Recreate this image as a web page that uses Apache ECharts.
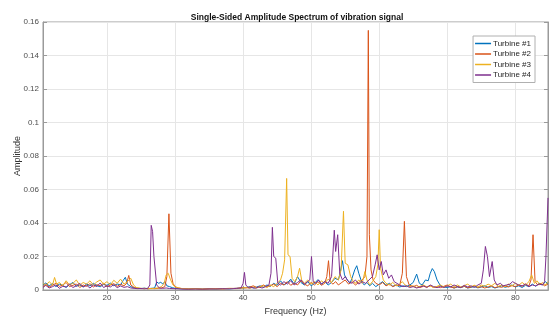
<!DOCTYPE html>
<html>
<head>
<meta charset="utf-8">
<script src="https://cdn.jsdelivr.net/npm/echarts@6/dist/echarts.min.js"></script>
<style>
  html, body { margin: 0; padding: 0; background: #fff; }
  #chart { width: 549px; height: 321px; }
</style>
</head>
<body>
<div id="chart"></div>
<script>
// tick values
const xTicks = [20, 30, 40, 50, 60, 70, 80];
const seriesNames = ["Turbine #1", "Turbine #2", "Turbine #3", "Turbine #4"];
const colors = ["#0072BD", "#D95319", "#EDB120", "#7E2F8E"];

// Turbine #1
const t1Freq = [10.6, 11.0, 11.5, 12.0, 12.5, 13.0, 13.5, 14.0, 14.5, 15.0, 15.5, 16.0, 16.5, 17.0, 17.5, 18.0, 18.5, 19.0, 19.5, 20.0, 20.5, 21.0, 21.5, 22.0, 22.4, 22.7, 23.0, 23.5, 24.0, 24.5, 25.0, 25.5, 26.0, 26.5, 27.0, 27.3, 27.6, 27.9, 28.2, 28.5, 28.8, 29.2, 29.6, 30.0, 31, 32, 33, 34, 35, 36, 37, 38, 39, 40, 40.5, 41, 41.5, 42, 42.5, 43, 43.5, 44.0, 44.5, 45.0, 45.5, 46.0, 46.5, 47.0, 47.5, 48.0, 48.5, 49.0, 49.5, 50.0, 50.5, 51.0, 51.5, 52.0, 52.5, 53.0, 53.5, 54.0, 54.3, 54.6, 54.9, 55.3, 55.7, 56.0, 56.4, 56.7, 57.0, 57.4, 57.8, 58.2, 58.6, 59.0, 59.5, 60.0, 60.5, 61.0, 61.5, 62.0, 62.5, 63.0, 63.5, 64.0, 64.5, 65.0, 65.5, 65.9, 66.3, 66.8, 67.2, 67.5, 67.8, 68.1, 68.5, 69.0, 69.5, 70, 70.5, 71, 71.5, 72, 72.5, 73, 73.5, 74, 74.5, 75, 75.5, 76, 76.5, 77, 77.5, 78, 78.5, 79, 79.5, 80, 80.5, 81, 81.5, 82, 82.5, 83, 83.5, 84, 84.4, 84.8];
const t1Amp = [0.0030, 0.0042, 0.0025, 0.0038, 0.0020, 0.0035, 0.0028, 0.0015, 0.0032, 0.0045, 0.0022, 0.0030, 0.0018, 0.0036, 0.0024, 0.0040, 0.0026, 0.0019, 0.0033, 0.0028, 0.0041, 0.0025, 0.0036, 0.0030, 0.0058, 0.0076, 0.0035, 0.0020, 0.0012, 0.0010, 0.0009, 0.0011, 0.0008, 0.0010, 0.0012, 0.0048, 0.0040, 0.0046, 0.0036, 0.0050, 0.0025, 0.0020, 0.0014, 0.0010, 0.0007, 0.0006, 0.0008, 0.0005, 0.0007, 0.0006, 0.0008, 0.0007, 0.0010, 0.0012, 0.0015, 0.0020, 0.0012, 0.0018, 0.0025, 0.0016, 0.0030, 0.0022, 0.0040, 0.0028, 0.0055, 0.0030, 0.0042, 0.0065, 0.0035, 0.0080, 0.0045, 0.0030, 0.0050, 0.0025, 0.0040, 0.0062, 0.0035, 0.0050, 0.0030, 0.0045, 0.0070, 0.0060, 0.0110, 0.0175, 0.0090, 0.0060, 0.0040, 0.0070, 0.0120, 0.0145, 0.0100, 0.0050, 0.0030, 0.0045, 0.0025, 0.0040, 0.0020, 0.0035, 0.0050, 0.0028, 0.0040, 0.0022, 0.0030, 0.0018, 0.0025, 0.0020, 0.0030, 0.0045, 0.0095, 0.0040, 0.0030, 0.0060, 0.0055, 0.0100, 0.0128, 0.0110, 0.0060, 0.0025, 0.0018, 0.0015, 0.0020, 0.0012, 0.0018, 0.0014, 0.0022, 0.0012, 0.0016, 0.0020, 0.0013, 0.0018, 0.0025, 0.0015, 0.0020, 0.0012, 0.0018, 0.0025, 0.0016, 0.0022, 0.0030, 0.0018, 0.0025, 0.0015, 0.0028, 0.0020, 0.0035, 0.0022, 0.0040, 0.0030, 0.0050, 0.0038];

// Turbine #2
const t2Freq = [10.6, 11.0, 11.5, 12.0, 12.5, 13.0, 13.5, 14.0, 14.5, 15.0, 15.5, 16.0, 16.5, 17.0, 17.5, 18.0, 18.5, 19.0, 19.5, 20.0, 20.5, 21.0, 21.5, 22.0, 22.5, 22.9, 23.2, 23.5, 24.0, 24.5, 25, 25.5, 26, 26.5, 27, 27.5, 28, 28.5, 28.8, 29.1, 29.4, 29.7, 30.0, 30.5, 31, 32, 33, 34, 35, 36, 37, 38, 39, 40, 40.5, 41, 41.5, 42, 42.5, 43, 43.5, 44, 44.5, 45, 45.5, 46, 46.5, 47, 47.5, 48, 48.5, 49, 49.5, 50, 50.5, 51, 51.5, 52.0, 52.3, 52.55, 52.8, 53.2, 53.6, 54.0, 54.5, 55.0, 55.5, 56.0, 56.5, 57.0, 57.5, 57.9, 58.2, 58.4, 58.55, 58.8, 59.1, 59.5, 60.0, 60.5, 61.0, 61.5, 62.0, 62.5, 63.0, 63.4, 63.7, 64.0, 64.4, 65, 65.5, 66, 66.5, 67, 67.5, 68, 68.5, 69, 69.5, 70, 70.5, 71, 71.5, 72, 72.5, 73, 73.5, 74, 74.5, 75, 75.5, 76, 76.5, 77, 77.5, 78, 78.5, 79, 79.5, 80, 80.5, 81, 81.5, 82, 82.3, 82.6, 82.9, 83.3, 83.8, 84.3, 84.8];
const t2Amp = [0.0020, 0.0035, 0.0018, 0.0028, 0.0040, 0.0022, 0.0030, 0.0045, 0.0020, 0.0028, 0.0036, 0.0015, 0.0030, 0.0022, 0.0038, 0.0018, 0.0032, 0.0025, 0.0040, 0.0020, 0.0030, 0.0038, 0.0022, 0.0034, 0.0025, 0.0040, 0.0087, 0.0030, 0.0015, 0.0010, 0.0008, 0.0010, 0.0007, 0.0009, 0.0008, 0.0010, 0.0012, 0.0020, 0.0080, 0.0455, 0.0100, 0.0040, 0.0020, 0.0012, 0.0008, 0.0006, 0.0007, 0.0005, 0.0006, 0.0008, 0.0006, 0.0009, 0.0010, 0.0014, 0.0012, 0.0018, 0.0025, 0.0015, 0.0020, 0.0030, 0.0018, 0.0025, 0.0035, 0.0020, 0.0040, 0.0030, 0.0050, 0.0028, 0.0042, 0.0030, 0.0055, 0.0035, 0.0025, 0.0045, 0.0030, 0.0050, 0.0028, 0.0040, 0.0080, 0.0175, 0.0050, 0.0035, 0.0050, 0.0030, 0.0045, 0.0060, 0.0035, 0.0050, 0.0030, 0.0045, 0.0060, 0.0080, 0.0200, 0.1550, 0.0330, 0.0120, 0.0060, 0.0040, 0.0030, 0.0045, 0.0025, 0.0035, 0.0020, 0.0030, 0.0025, 0.0100, 0.0410, 0.0080, 0.0030, 0.0020, 0.0028, 0.0015, 0.0022, 0.0018, 0.0025, 0.0015, 0.0020, 0.0014, 0.0022, 0.0030, 0.0018, 0.0012, 0.0020, 0.0015, 0.0022, 0.0013, 0.0018, 0.0025, 0.0015, 0.0020, 0.0012, 0.0018, 0.0025, 0.0014, 0.0020, 0.0016, 0.0024, 0.0018, 0.0026, 0.0020, 0.0030, 0.0022, 0.0035, 0.0025, 0.0060, 0.0330, 0.0050, 0.0030, 0.0040, 0.0025, 0.0035];

// Turbine #3
const t3Freq = [10.6, 11.0, 11.5, 12.0, 12.3, 12.6, 13.0, 13.5, 14.0, 14.5, 15.0, 15.5, 16.0, 16.5, 17.0, 17.5, 18.0, 18.5, 19.0, 19.5, 20.0, 20.5, 21.0, 21.5, 22.0, 22.5, 23.0, 23.5, 23.9, 24.3, 25, 25.5, 26, 26.5, 27, 27.5, 28, 28.4, 28.7, 29.0, 29.3, 29.7, 30.2, 31, 32, 33, 34, 35, 36, 37, 38, 39, 40, 40.5, 41, 41.5, 42, 42.5, 43, 43.5, 44, 44.5, 45.0, 45.5, 45.8, 46.1, 46.4, 46.6, 46.9, 47.2, 47.6, 48.0, 48.3, 48.6, 49.0, 49.5, 50.0, 50.5, 51.0, 51.5, 52.0, 52.5, 53.0, 53.5, 54.0, 54.4, 54.75, 55.0, 55.4, 55.8, 56.2, 56.6, 57.0, 57.5, 57.9, 58.2, 58.6, 59.0, 59.5, 59.8, 60.0, 60.2, 60.6, 61.0, 61.5, 62.0, 62.5, 63.0, 63.4, 63.8, 64.3, 65, 65.5, 66, 66.5, 67, 67.5, 68, 68.5, 69, 69.5, 70, 70.5, 71, 71.5, 72, 72.5, 73, 73.5, 74, 74.5, 75, 75.5, 76, 76.5, 77, 77.5, 78, 78.5, 79, 79.5, 80, 80.5, 81, 81.5, 82, 82.4, 82.8, 83.2, 83.6, 84, 84.4, 84.8];
const t3Amp = [0.0040, 0.0025, 0.0050, 0.0030, 0.0075, 0.0035, 0.0045, 0.0025, 0.0055, 0.0030, 0.0040, 0.0060, 0.0028, 0.0045, 0.0035, 0.0055, 0.0030, 0.0048, 0.0060, 0.0035, 0.0050, 0.0030, 0.0058, 0.0040, 0.0065, 0.0035, 0.0050, 0.0070, 0.0030, 0.0015, 0.0010, 0.0008, 0.0010, 0.0008, 0.0010, 0.0012, 0.0020, 0.0040, 0.0090, 0.0100, 0.0065, 0.0030, 0.0015, 0.0009, 0.0007, 0.0008, 0.0006, 0.0009, 0.0007, 0.0008, 0.0010, 0.0008, 0.0012, 0.0015, 0.0010, 0.0018, 0.0012, 0.0020, 0.0025, 0.0015, 0.0030, 0.0020, 0.0040, 0.0060, 0.0100, 0.0180, 0.0666, 0.0210, 0.0200, 0.0070, 0.0050, 0.0080, 0.0130, 0.0060, 0.0040, 0.0060, 0.0035, 0.0050, 0.0030, 0.0055, 0.0040, 0.0065, 0.0045, 0.0080, 0.0060, 0.0120, 0.0470, 0.0160, 0.0150, 0.0080, 0.0050, 0.0040, 0.0060, 0.0040, 0.0110, 0.0060, 0.0030, 0.0050, 0.0080, 0.0150, 0.0360, 0.0130, 0.0060, 0.0040, 0.0030, 0.0045, 0.0025, 0.0035, 0.0050, 0.0030, 0.0020, 0.0025, 0.0015, 0.0022, 0.0030, 0.0018, 0.0025, 0.0015, 0.0022, 0.0030, 0.0018, 0.0025, 0.0035, 0.0020, 0.0030, 0.0018, 0.0026, 0.0035, 0.0020, 0.0028, 0.0018, 0.0030, 0.0022, 0.0035, 0.0025, 0.0040, 0.0022, 0.0030, 0.0020, 0.0035, 0.0025, 0.0040, 0.0028, 0.0045, 0.0030, 0.0050, 0.0090, 0.0040, 0.0055, 0.0030, 0.0045, 0.0030, 0.0050];

// Turbine #4
const t4Freq = [10.6, 11.0, 11.5, 12.0, 12.5, 13.0, 13.5, 14.0, 14.5, 15.0, 15.5, 16.0, 16.5, 17.0, 17.5, 18.0, 18.5, 19.0, 19.5, 20.0, 20.5, 21.0, 21.5, 22.0, 22.5, 23.0, 23.5, 24.0, 24.5, 25, 25.5, 26.0, 26.3, 26.5, 26.7, 26.9, 27.1, 27.3, 27.7, 28.2, 28.7, 29.2, 30, 31, 32, 33, 34, 35, 36, 37, 38, 39, 39.7, 40.0, 40.2, 40.4, 40.8, 41.3, 41.8, 42.3, 42.8, 43.3, 43.8, 44.1, 44.3, 44.5, 44.8, 45.1, 45.5, 46.0, 46.5, 47.0, 47.5, 48.0, 48.5, 49.0, 49.5, 49.8, 50.05, 50.3, 50.7, 51.1, 51.5, 52.0, 52.5, 53.0, 53.4, 53.6, 53.9, 54.2, 54.6, 55.0, 55.5, 56.0, 56.5, 57.0, 57.5, 58.0, 58.5, 59.0, 59.4, 59.7, 60.0, 60.3, 60.6, 61.0, 61.4, 61.8, 62.2, 62.6, 63.0, 63.5, 64, 64.5, 65, 65.5, 66, 66.5, 67, 67.5, 68, 68.5, 69, 69.5, 70, 70.5, 71, 71.5, 72, 72.5, 73, 73.5, 74, 74.5, 75.0, 75.3, 75.6, 75.9, 76.2, 76.6, 76.9, 77.3, 77.8, 78.2, 78.7, 79.2, 79.6, 80.0, 80.5, 81.0, 81.5, 82.0, 82.5, 83.0, 83.5, 84.0, 84.3, 84.5, 84.8];
const t4Amp = [0.0015, 0.0028, 0.0012, 0.0020, 0.0030, 0.0010, 0.0022, 0.0018, 0.0035, 0.0015, 0.0025, 0.0040, 0.0018, 0.0028, 0.0012, 0.0030, 0.0020, 0.0042, 0.0015, 0.0025, 0.0018, 0.0032, 0.0014, 0.0024, 0.0016, 0.0020, 0.0012, 0.0010, 0.0008, 0.0009, 0.0007, 0.0010, 0.0030, 0.0386, 0.0350, 0.0200, 0.0190, 0.0030, 0.0012, 0.0010, 0.0012, 0.0009, 0.0008, 0.0006, 0.0005, 0.0006, 0.0005, 0.0007, 0.0006, 0.0008, 0.0007, 0.0009, 0.0012, 0.0040, 0.0105, 0.0030, 0.0012, 0.0015, 0.0010, 0.0018, 0.0012, 0.0020, 0.0030, 0.0100, 0.0374, 0.0200, 0.0190, 0.0040, 0.0030, 0.0050, 0.0035, 0.0055, 0.0030, 0.0045, 0.0060, 0.0035, 0.0050, 0.0060, 0.0200, 0.0050, 0.0040, 0.0060, 0.0035, 0.0050, 0.0040, 0.0080, 0.0357, 0.0230, 0.0330, 0.0100, 0.0060, 0.0080, 0.0050, 0.0040, 0.0060, 0.0035, 0.0050, 0.0040, 0.0060, 0.0080, 0.0150, 0.0210, 0.0120, 0.0170, 0.0090, 0.0120, 0.0070, 0.0090, 0.0050, 0.0040, 0.0030, 0.0020, 0.0025, 0.0015, 0.0020, 0.0012, 0.0018, 0.0025, 0.0015, 0.0030, 0.0020, 0.0014, 0.0022, 0.0015, 0.0025, 0.0018, 0.0030, 0.0020, 0.0015, 0.0028, 0.0018, 0.0025, 0.0015, 0.0030, 0.0040, 0.0120, 0.0260, 0.0200, 0.0080, 0.0170, 0.0060, 0.0030, 0.0040, 0.0025, 0.0030, 0.0035, 0.0050, 0.0040, 0.0030, 0.0025, 0.0035, 0.0020, 0.0030, 0.0025, 0.0035, 0.0030, 0.0050, 0.0200, 0.0550];

const freqs = [t1Freq, t2Freq, t3Freq, t4Freq];
const amps = [t1Amp, t2Amp, t3Amp, t4Amp];

const chart = echarts.init(document.getElementById("chart"), null, { renderer: "canvas" });

const font = "Liberation Sans, Arial, Helvetica, sans-serif";
const labelColor = "#4d4d4d";
const axisColor = "#9a9a9a";

const baseX = {
  type: "value",
  min: 10.6,
  max: 84.8,
  axisLine: { show: true, lineStyle: { color: axisColor } },
  axisTick: { show: true, inside: true, length: 4, customValues: xTicks, lineStyle: { color: axisColor } },
};
const baseY = {
  type: "value",
  min: 0,
  max: 0.16,
  interval: 0.02,
  axisLine: { show: true, lineStyle: { color: axisColor } },
  axisTick: { show: true, inside: true, length: 4, lineStyle: { color: axisColor } },
};

const option = {
  animation: false,
  backgroundColor: "#fff",
  color: colors,
  title: {
    text: "Single-Sided Amplitude Spectrum of vibration signal",
    left: 297,
    top: 13,
    padding: 0,
    textAlign: "center",
    textStyle: { fontFamily: font, fontSize: 8.5, fontWeight: "bold", color: "#111" },
  },
  legend: {
    data: seriesNames,
    orient: "vertical",
    right: 14,
    top: 36,
    padding: [3, 4, 3, 2],
    itemGap: 1.5,
    itemWidth: 16,
    itemHeight: 1.5,
    icon: "rect",
    backgroundColor: "#fff",
    borderColor: "#b0b0b0",
    borderWidth: 1,
    borderRadius: 0,
    textStyle: { fontFamily: font, fontSize: 8, color: "#262626", padding: [0, 0, 0, -3], lineHeight: 9 },
  },
  grid: {
    left: 43,
    right: 1,
    top: 22,
    bottom: 25,
    show: true,
    borderColor: axisColor,
    borderWidth: 1,
    containLabel: false,
  },
  xAxis: [
    Object.assign({}, baseX, {
      position: "bottom",
      name: "Frequency (Hz)",
      nameLocation: "middle",
      nameGap: 17,
      nameMoveOverlap: false,
      nameTextStyle: { fontFamily: font, fontSize: 9, color: "#333" },
      axisLabel: { customValues: xTicks, fontFamily: font, fontSize: 8, color: labelColor, margin: 4 },
      splitLine: { show: true, lineStyle: { color: "#e6e6e6", width: 1 } },
    }),
    Object.assign({}, baseX, {
      position: "top",
      axisLabel: { show: false },
      splitLine: { show: false },
    }),
  ],
  yAxis: [
    Object.assign({}, baseY, {
      position: "left",
      name: "Amplitude",
      nameLocation: "middle",
      nameGap: 21,
      nameMoveOverlap: false,
      nameTextStyle: { fontFamily: font, fontSize: 9, color: "#333" },
      axisLabel: { fontFamily: font, fontSize: 8, color: labelColor, margin: 4 },
      splitLine: { show: true, lineStyle: { color: "#e6e6e6", width: 1 } },
    }),
    Object.assign({}, baseY, {
      position: "right",
      axisLabel: { show: false },
      splitLine: { show: false },
    }),
  ],
  series: seriesNames.map((name, k) => ({
    name: name,
    type: "line",
    xAxisIndex: 0,
    yAxisIndex: 0,
    showSymbol: false,
    symbol: "none",
    lineStyle: { width: 1 },
    data: freqs[k].map((f, i) => [f, amps[k][i]]),
  })),
};

chart.setOption(option);
</script>
</body>
</html>
